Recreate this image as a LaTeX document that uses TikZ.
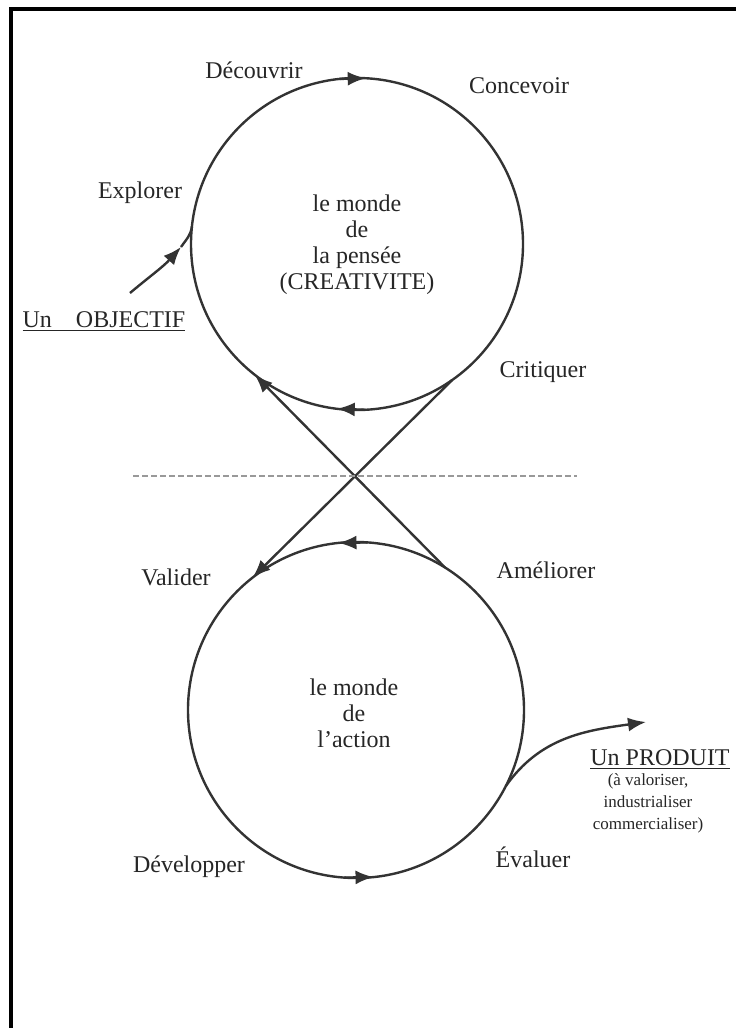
\documentclass[tikz,border=0pt]{standalone}
\usepackage{fontspec}
\setmainfont{Liberation Serif}
\usetikzlibrary{arrows.meta}
\begin{document}
\begin{tikzpicture}[x=0.5pt,y=0.5pt,
  ink/.style={draw=black!80, line width=1.2pt},
  world/.style={circle, ink, inner sep=0pt, outer sep=0pt},
  tipmark/.style={ink, -{Latex[length=9pt,width=7pt]}},
  lbl/.style={text=black!85, font=\fontsize{12}{13}\selectfont, inner sep=0pt},
  inner/.style={lbl, align=center},
  small/.style={text=black!85, font=\fontsize{8.5}{11}\selectfont, align=center, inner sep=0pt}]
\useasboundingbox (0,0) rectangle (736,-1028);
% frame (top and left edges)
\draw[line width=2pt, black] (11,-1028) -- (11,-8.5) -- (736,-8.5);
% the two worlds
\node[world, minimum size=166pt] (C1) at (357,-244) {};
\node[world, minimum size=168pt] (C2) at (356,-710) {};
\node[inner] (t1) at (357,-245) {le monde\\de\\la pensée\\(CREATIVITE)};
\node[inner] (t2) at (354,-713) {le monde\\de\\l'action};
% arrowheads along the circles
\draw[tipmark] (C1.96) -- (C1.87);
\draw[tipmark] (C1.-87) -- (C1.-97);
\draw[tipmark] (C2.86) -- (C2.96);
\draw[tipmark] (C2.-94) -- (C2.-84);
% crossing links
\draw[tipmark] (C2.58) -- (C1.232);
\draw[tipmark] (C1.-55) -- (C2.128);
% separation line
\coordinate (d1) at (133,-476);
\coordinate (d2) at (577,-476);
\draw[black!40, line width=1.3pt, dash pattern=on 3pt off 1.5pt] (d1) -- (d2);
% objective
\node[lbl] (obj) at (104,-322) {\underline{Un\quad OBJECTIF}};
\coordinate (objs) at (130,-293);
\coordinate (objt) at (181,-247);
\draw[tipmark] (objs) to[out=40,in=228] (objt);
\draw[ink] (objt) to[out=55,in=262] (C1.174);
% product
\coordinate (prodt) at (646,-722);
\draw[tipmark] (C2.-27) to[out=55,in=188] (prodt);
\node[lbl] (prod) at (660,-760) {\underline{Un PRODUIT}};
\node[small] (prodn) at (648,-803) {(à valoriser,\\industrialiser\\commercialiser)};
% step labels
\node[lbl] (l1) at (254,-70) {Découvrir};
\node[lbl] (l2) at (519,-86) {Concevoir};
\node[lbl] (l3) at (140,-193) {Explorer};
\node[lbl] (l4) at (543,-372) {Critiquer};
\node[lbl] (l5) at (176,-577) {Valider};
\node[lbl] (l6) at (546,-570) {Améliorer};
\node[lbl] (l7) at (189,-867) {Développer};
\node[lbl] (l8) at (533,-857) {Évaluer};
\end{tikzpicture}
\end{document}
